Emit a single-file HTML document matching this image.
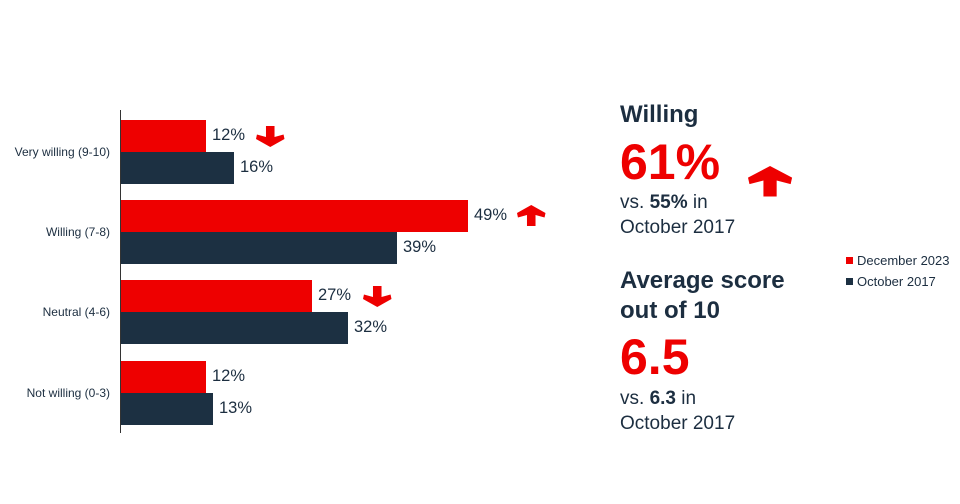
<!DOCTYPE html>
<html><head><style>
body{margin:0;width:960px;height:504px;background:#fff;font-family:"Liberation Sans",sans-serif;position:relative;overflow:hidden;color:#1c2e40}
.b{position:absolute;left:121px;height:32px}
.r{background:#ee0000}.d{background:#1c3042}
.v{position:absolute;font-size:16.5px;color:#1c2e40}
.c{position:absolute;right:850px;font-size:12px;color:#1c2e40;white-space:nowrap}
.t{position:absolute;left:620px;white-space:nowrap}
</style></head><body>
<div style="position:absolute;left:120px;top:110px;width:1px;height:323px;background:#333"></div>
<div class="c" style="top:145px">Very willing (9-10)</div>
<div class="c" style="top:225px">Willing (7-8)</div>
<div class="c" style="top:305px">Neutral (4-6)</div>
<div class="c" style="top:386px">Not willing (0-3)</div>
<div class="b r" style="top:120px;width:85px"></div>
<div class="b d" style="top:152px;width:113px"></div>
<div class="b r" style="top:200px;width:347px"></div>
<div class="b d" style="top:232px;width:276px"></div>
<div class="b r" style="top:280px;width:191px"></div>
<div class="b d" style="top:312px;width:227px"></div>
<div class="b r" style="top:361px;width:85px"></div>
<div class="b d" style="top:393px;width:92px"></div>
<div class="v" style="left:212px;top:126px">12%</div>
<div class="v" style="left:240px;top:158px">16%</div>
<div class="v" style="left:474px;top:206px">49%</div>
<div class="v" style="left:403px;top:238px">39%</div>
<div class="v" style="left:318px;top:286px">27%</div>
<div class="v" style="left:354px;top:318px">32%</div>
<div class="v" style="left:212px;top:367px">12%</div>
<div class="v" style="left:219px;top:399px">13%</div>
<svg width="960" height="504" style="position:absolute;left:0;top:0">
<defs><polygon id="up" points="15,0 30,8 29,12.5 19.5,10 19.5,21 10.5,21 10.5,10 1,12.5 0,8" fill="#ee0000"/></defs>
<use href="#up" transform="translate(517,205) scale(0.95,1)"/>
<use href="#up" transform="translate(256,147) scale(0.95,-1)"/>
<use href="#up" transform="translate(363,307) scale(0.95,-1)"/>
<use href="#up" transform="translate(748,166) scale(1.47,1.45)"/>
<rect x="846" y="257" width="7" height="7" fill="#ee0000"/>
<rect x="846" y="278" width="7" height="7" fill="#1c3042"/>
<text x="857" y="265" font-size="13" fill="#1c2e40" font-family="Liberation Sans">December 2023</text>
<text x="857" y="286" font-size="13" fill="#1c2e40" font-family="Liberation Sans">October 2017</text>
</svg>
<div class="t" style="top:101px;font-size:24px;font-weight:bold">Willing</div>
<div class="t" style="top:133px;font-size:50px;font-weight:bold;color:#ee0000;line-height:58px">61%</div>
<div class="t" style="top:190px;font-size:19px;line-height:25px">vs. <b>55%</b> in<br>October 2017</div>
<div class="t" style="top:266px;font-size:24px;font-weight:bold;line-height:30px">Average score<br>out of 10</div>
<div class="t" style="top:328px;font-size:50px;font-weight:bold;color:#ee0000;line-height:58px">6.5</div>
<div class="t" style="top:386px;font-size:19px;line-height:25px">vs. <b>6.3</b> in<br>October 2017</div>
</body></html>
